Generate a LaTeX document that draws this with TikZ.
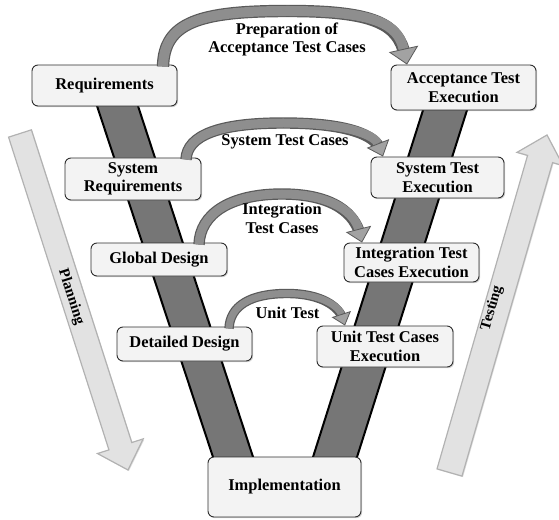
\documentclass[tikz,border=0pt]{standalone}
\usepackage{fontspec}
\setmainfont{Liberation Serif}
\usetikzlibrary{arrows.meta,calc,shadows}
\definecolor{boxfill}{HTML}{F3F3F3}
\definecolor{boxline}{HTML}{2E2E2E}
\definecolor{bandfill}{HTML}{767676}
\definecolor{arrdark}{HTML}{5A5A5A}
\definecolor{arrmid}{HTML}{8E8E8E}
\definecolor{arrhead}{HTML}{A2A2A2}
\definecolor{bigfill}{HTML}{E2E2E2}
\definecolor{bigline}{HTML}{B2B2B2}
\begin{document}
\begin{tikzpicture}[x=1bp,y=-1bp,
  box/.style={draw=boxline, line width=0.9bp, fill=boxfill, rounded corners=6bp,
    align=center, inner sep=0pt, font=\bfseries\fontsize{16.5}{18.5}\selectfont,
    drop shadow={shadow xshift=1.2bp, shadow yshift=-1.2bp, opacity=0.35}},
  lbl/.style={align=center, inner sep=0pt, font=\bfseries\fontsize{16.5}{19}\selectfont},
  biglbl/.style={inner sep=0pt, font=\bfseries\fontsize{15}{17}\selectfont},
  carrow/.style n args={3}{draw=arrmid, line width=#1,
    -{Triangle[length=#3, width=#2, line width=0.8bp, color=arrdark, fill=arrhead]},
    preaction={draw=arrdark, line width=#1+2.4bp, arrows=-, shorten >=0.6*#3}},
  bigarrow/.style={fill=bigfill, draw=bigline, line width=1.2bp, line join=miter,
    drop shadow={shadow xshift=1bp, shadow yshift=-1bp, opacity=0.25}},
  bandedge/.style={draw=black, line width=2bp}]
\useasboundingbox (0,0) rectangle (559,520);

% big side arrows
\coordinate (pT) at (20,133.5);
\coordinate (pP) at (128,470);
\coordinate (pB) at ($(pP)!25bp!(pT)$);
\path[bigarrow] ($(pT)!12bp!90:(pP)$) -- ($(pB)!12bp!90:(pP)$) -- ($(pB)!24bp!90:(pP)$)
  -- (pP) -- ($(pB)!24bp!-90:(pP)$) -- ($(pB)!12bp!-90:(pP)$) -- ($(pT)!12bp!-90:(pP)$) -- cycle;
\node[biglbl, rotate=-72.2] (plan) at (71,297) {Planning};

\coordinate (tT) at (449.5,472.5);
\coordinate (tP) at (547,135);
\coordinate (tB) at ($(tP)!25bp!(tT)$);
\path[bigarrow] ($(tT)!13bp!90:(tP)$) -- ($(tB)!13bp!90:(tP)$) -- ($(tB)!24bp!90:(tP)$)
  -- (tP) -- ($(tB)!24bp!-90:(tP)$) -- ($(tB)!13bp!-90:(tP)$) -- ($(tT)!13bp!-90:(tP)$) -- cycle;
\node[biglbl, rotate=73.9] (test) at (492,308) {Testing};

% V bands
\fill[bandfill] (93.4,95) -- (134.4,95) -- (257.3,470) -- (217.3,470) -- cycle;
\draw[bandedge] (93.4,95) -- (217.3,470);
\draw[bandedge] (134.4,95) -- (257.3,470);
\fill[bandfill] (427.8,95) -- (471.8,95) -- (352.9,470) -- (308.9,470) -- cycle;
\draw[bandedge] (427.8,95) -- (308.9,470);
\draw[bandedge] (471.8,95) -- (352.9,470);

% boxes
\node[box, minimum width=145bp, minimum height=41bp] (req) at (104.5,85.5) {Requirements};
\node[box, minimum width=136bp, minimum height=42bp] (sysreq) at (133,179) {System\\Requirements};
\node[box, minimum width=136bp, minimum height=33bp] (glob) at (159,259.5) {Global Design};
\node[box, minimum width=135bp, minimum height=34bp] (det) at (184.5,344) {Detailed Design};
\node[box, minimum width=153bp, minimum height=60bp] (impl) at (284.5,487) {Implementation};
\node[box, minimum width=145bp, minimum height=45bp] (acc) at (463.5,87.5) {Acceptance Test\\Execution};
\node[box, minimum width=133bp, minimum height=41bp] (syst) at (437.5,177.5) {System Test\\Execution};
\node[box, minimum width=135bp, minimum height=39bp] (integ) at (411.5,262.5) {Integration Test\\Cases Execution};
\node[box, minimum width=136bp, minimum height=41bp] (unit) at (385,346.5) {Unit Test Cases\\Execution};

% curved arrows
\draw[carrow={10bp}{30bp}{16bp}] ([xshift=58.5bp,yshift=-2bp]req.north)
  .. controls (164,22) and (200,11) .. (288,11)
  .. controls (375,11) and (398,24) .. ([xshift=-56.5bp]acc.north);
\draw[carrow={9bp}{24bp}{14bp}] ([xshift=53bp,yshift=-2bp]sysreq.north)
  .. controls (187,135) and (220,123) .. (283,123)
  .. controls (350,123) and (375,136) .. ([xshift=-54.5bp]syst.north);
\draw[carrow={9bp}{26bp}{14bp}] ([xshift=40bp,yshift=-2bp]glob.north)
  .. controls (200,214) and (230,194) .. (282,194)
  .. controls (335,194) and (355,215) .. ([xshift=-49.5bp]integ.north);
\draw[carrow={7bp}{20bp}{12bp}] ([xshift=44.5bp,yshift=-2bp]det.north)
  .. controls (230,306) and (250,293.5) .. (287,293.5)
  .. controls (322,293.5) and (339,307) .. ([xshift=-40bp]unit.north);

% arrow labels
\node[lbl] (l1) at (287,39.5) {Preparation of\\Acceptance Test Cases};
\node[lbl] (l2) at (285,142) {System Test Cases};
\node[lbl] (l3) at (282,218) {Integration\\Test Cases};
\node[lbl] (l4) at (287.5,313) {Unit Test};
\end{tikzpicture}
\end{document}
